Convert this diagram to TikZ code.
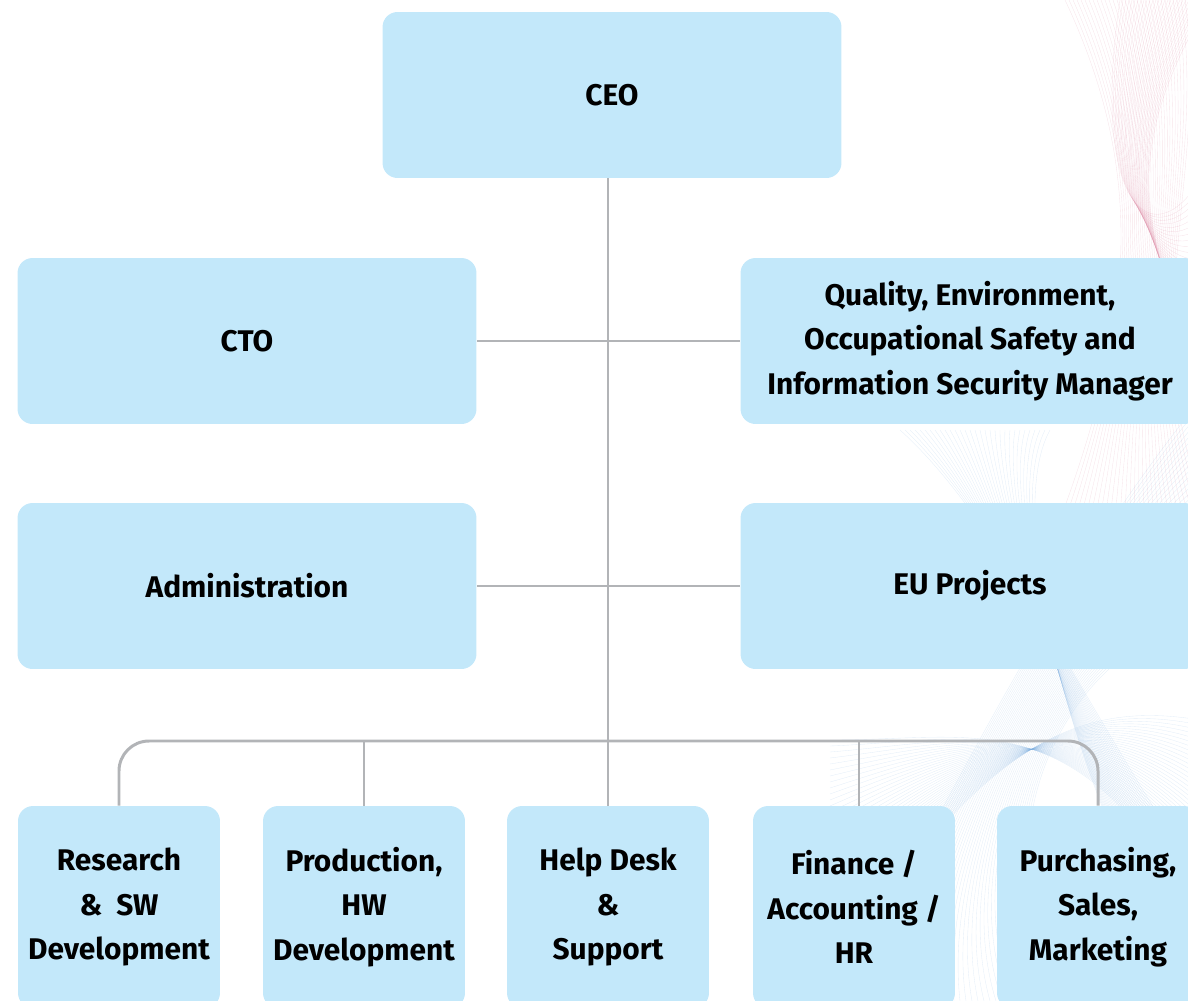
\documentclass[tikz,border=0pt]{standalone}
\usepackage{fontspec}
\setmainfont{Fira Sans}
\usetikzlibrary{positioning}
\definecolor{boxblue}{RGB}{195,232,250}
\definecolor{linkgray}{RGB}{178,180,183}
\definecolor{wavepink}{RGB}{214,120,150}
\definecolor{waveblue}{RGB}{120,170,220}
\tikzset{
    unit/.style = {fill=boxblue, rounded corners=0.3cm, align=center,
        minimum width=9.18cm, minimum height=3.32cm, inner sep=0pt,
        font=\fontsize{17}{25.5}\selectfont\bfseries},
    dept/.style = {unit, minimum width=4.04cm, minimum height=4.04cm},
    link/.style = {draw=linkgray, line width=1.7pt},
    wave/.style = {line width=0.2pt, opacity=0.2}
}
\begin{document}
\begin{tikzpicture}[x=0.02cm, y=-0.02cm]
    \useasboundingbox (0,0) rectangle (1188,1001);
    \clip (0,0) rectangle (1188,1001);
    % background mesh
    \foreach \k in {0,...,30}
        \draw [wave, wavepink] (1065+4*\k, 0) .. controls (1150+2*\k, 180) and (1130, 330) .. (1060+5*\k, 520);
    \foreach \k in {0,...,30}
        \draw [wave, wavepink] (1120+3*\k, 0) .. controls (1090, 200) and (1150+\k, 260) .. (1200, 180+8*\k);
    \foreach \k in {0,...,40}
        \draw [wave, waveblue] (840+6*\k, 1001) .. controls (940, 820) and (1040+2*\k, 600) .. (1200, 400+6*\k);
    \foreach \k in {0,...,40}
        \draw [wave, waveblue] (830, 980-6*\k) .. controls (980, 740) and (1080, 700) .. (1200, 720+5*\k);
    \foreach \k in {0,...,30}
        \draw [wave, waveblue] (900+5*\k, 430) .. controls (1000, 520) and (1080, 700+4*\k) .. (1200, 880+4*\k);

    % boxes
    \node [unit] (ceo) at (612, 95) {CEO};
    \node [unit] (cto) at (247, 341) {CTO};
    \node [unit] (qual) at (970, 341) {Quality, Environment,\\Occupational Safety and\\Information Security Manager};
    \node [unit] (admin) at (247, 586) {Administration};
    \node [unit] (eu) at (970, 586) {EU Projects};
    \node [dept] (research) at (119, 907) {Research\\\&\ \ SW\\Development};
    \node [dept] (prod) at (364, 907) {Production,\\HW\\Development};
    \node [dept] (help) at (608, 907) {Help Desk\\\&\\Support};
    \node [dept] (fin) at (854, 907) {Finance /\\Accounting /\\HR};
    \node [dept] (purch) at (1098, 907) {Purchasing,\\Sales,\\Marketing};

    % connectors
    \coordinate (bus) at (608, 741);
    \coordinate (fintop) at ([xshift=0.1cm]fin.north);
    \draw [link] (ceo.south -| help.north) -- (help.north);
    \draw [link] (cto) -- (qual);
    \draw [link] (admin) -- (eu);
    \draw [link, rounded corners=0.6cm] (research.north) |- (bus) -| (purch.north);
    \draw [link] (prod.north) -- (prod.north |- bus);
    \draw [link] (fintop) -- (fintop |- bus);
\end{tikzpicture}
\end{document}
